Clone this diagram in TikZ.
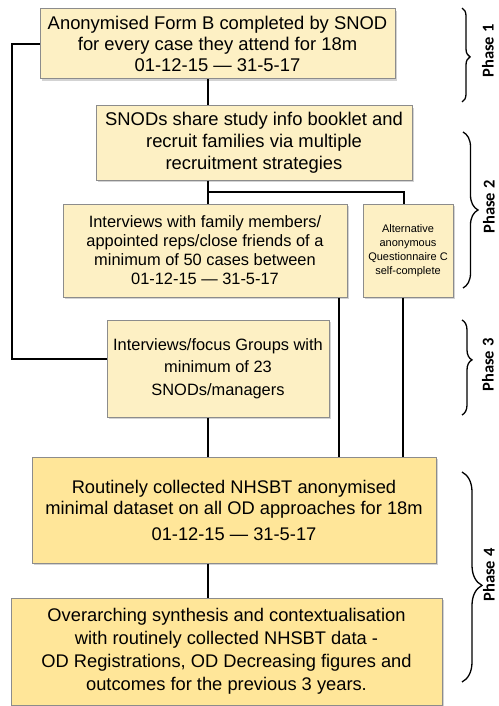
\documentclass[tikz,border=0pt]{standalone}
\usepackage{fontspec}
\setmainfont{Liberation Sans}
\newfontfamily\phasefont{Carlito}
\usetikzlibrary{shadows,decorations.pathreplacing}

\definecolor{lightbox}{RGB}{253,240,196}
\definecolor{darkbox}{RGB}{255,230,153}
\definecolor{boxline}{RGB}{140,140,140}

\newcommand\boxbig{\fontsize{18.4}{21}\selectfont}
\newcommand\boxmid{\fontsize{16.4}{19}\selectfont}
\newcommand\boxtiny{\fontsize{11}{14}\selectfont}

\tikzset{
  box/.style={draw=boxline, line width=1pt, fill=lightbox, align=center, inner sep=0pt,
    drop shadow={shadow xshift=1.6pt, shadow yshift=-1.6pt, opacity=0.35}},
  databox/.style={box, fill=darkbox},
  link/.style={line width=1.3pt},
  phasebrace/.style={decorate, line width=1.3pt},
  phaselabel/.style={rotate=90, inner sep=1pt, font=\phasefont\bfseries\fontsize{16.5}{18}\selectfont}
}

\begin{document}
\begin{tikzpicture}[x=1pt, y=-1pt]
    \useasboundingbox (0,0) rectangle (498,706);
%%   kw   (name)   (x, y)   {text}
    \node[box, minimum width=355pt, minimum height=70pt, font=\boxbig] (formB) at (217.5,44)
        {Anonymised Form B completed by SNOD\\for every case they attend for 18m\\01-12-15 — 31-5-17};
    \node[box, minimum width=316pt, minimum height=74pt, font=\boxbig\fontsize{18.4}{22}\selectfont] (share) at (254,143)
        {SNODs share study info booklet and\\recruit families via multiple\\recruitment strategies};
    \node[box, minimum width=284pt, minimum height=93pt, font=\boxmid] (family) at (205,250.5)
        {Interviews with family members/\\appointed reps/close friends of a\\minimum of 50 cases between\\01-12-15 — 31-5-17};
    \node[box, minimum width=90pt, minimum height=93pt, font=\boxtiny] (alt) at (408,250.5)
        {Alternative\\anonymous\\Questionnaire C\\self-complete};
    \node[box, minimum width=222pt, minimum height=97pt, font=\boxmid\fontsize{16.4}{22.7}\selectfont] (focus) at (218,368.5)
        {Interviews/focus Groups with\\minimum of 23\\SNODs/managers};
    \node[databox, minimum width=404pt, minimum height=106pt, font=\boxbig\fontsize{18.3}{21.5}\selectfont] (minimal) at (234,510)
        {Routinely collected NHSBT anonymised\\minimal dataset on all OD approaches for 18m\\[4pt]01-12-15 — 31-5-17};
    \node[databox, minimum width=431pt, minimum height=107pt, font=\boxbig\fontsize{18.3}{23}\selectfont] (synth) at (226.5,651.5)
        {Overarching synthesis and contextualisation\\with routinely collected NHSBT data -\\OD Registrations, OD Decreasing figures and\\outcomes for the previous 3 years.};

    \coordinate (trunk) at (208,0);
    \coordinate (split) at (208,192);
    \coordinate (altin) at (404,0);
    \coordinate (famdrop) at (339,0);
    \coordinate (altdrop) at (403,0);
    \coordinate (loopend) at (12,359);

    \draw[link] (formB.south -| trunk) -- (share.north -| trunk);
    \draw[link] (share.south -| trunk) -- (family.north -| trunk);
    \draw[link] (split) -| (alt.north -| altin);
    \draw[link] (family.south -| famdrop) -- (minimal.north -| famdrop);
    \draw[link] (alt.south -| altdrop) -- (minimal.north -| altdrop);
    \draw[link] (focus.south -| trunk) -- (minimal.north -| trunk);
    \draw[link] (minimal.south -| trunk) -- (synth.north -| trunk);
    \draw[link] (formB.west) -| (loopend) -- (loopend -| focus.west);

    \draw[phasebrace, decoration={brace, amplitude=8pt, aspect=0.52}] (462,8) -- (462,102);
    \draw[phasebrace, decoration={brace, amplitude=15pt, aspect=0.5}] (463,132) -- (463,288);
    \draw[phasebrace, decoration={brace, amplitude=10pt, aspect=0.42}] (462,320) -- (462,415);
    \draw[phasebrace, decoration={brace, amplitude=20pt, aspect=0.54}] (462,472) -- (462,682);

    \node[phaselabel] (phase1) at (488,51) {Phase 1};
    \node[phaselabel] (phase2) at (489,207) {Phase 2};
    \node[phaselabel] (phase3) at (488,365) {Phase 3};
    \node[phaselabel] (phase4) at (489,575) {Phase 4};
\end{tikzpicture}
\end{document}
